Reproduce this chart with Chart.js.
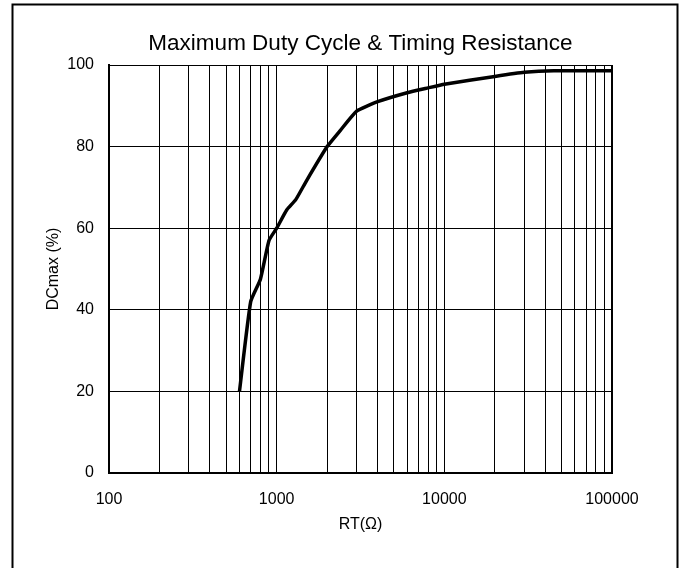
<!DOCTYPE html>
<html>
<head>
<meta charset="utf-8">
<script src="https://cdn.jsdelivr.net/npm/chart.js@4/dist/chart.umd.min.js"></script>
<style>
  html, body { margin: 0; padding: 0; background: #fff; }
  #wrap { width: 684px; height: 568px; position: relative; }
</style>
</head>
<body>
<div id="wrap"><canvas id="c" width="684" height="568"></canvas></div>
<script>
// ---- data ----
const chartTitle = 'Maximum Duty Cycle & Timing Resistance';
const xAxisTitle = 'RT(Ω)';
const yAxisTitle = 'DCmax (%)';
const rtValues = [600, 700, 800, 900, 1000, 1150, 1300, 1500, 2000, 2400, 3000, 4000, 6000, 8000, 10000, 20000, 30000, 45000, 100000];
const dcValues = [20, 42, 47.5, 57, 60, 64.5, 67, 71.5, 80, 84, 88.7, 91, 93.2, 94.4, 95.3, 97.2, 98.2, 98.6, 98.6];
const xGridValues = [100, 200, 300, 400, 500, 600, 700, 800, 900,
                     1000, 2000, 3000, 4000, 5000, 6000, 7000, 8000, 9000,
                     10000, 20000, 30000, 40000, 50000, 60000, 70000, 80000, 90000, 100000];
const xTickLabels = [100, 1000, 10000, 100000];
const yTickValues = [0, 20, 40, 60, 80, 100];

const FONT = "'Liberation Sans', Arial, sans-serif";

const frame = {
  id: 'frame',
  afterDraw(chart) {
    const ctx = chart.ctx;
    const a = chart.chartArea;
    ctx.save();
    ctx.strokeStyle = '#000';
    ctx.lineWidth = 2;
    ctx.strokeRect(12.5, 4.5, 665, 600);
    ctx.beginPath();
    ctx.moveTo(Math.round(a.right), a.top);
    ctx.lineTo(Math.round(a.right), a.bottom);
    ctx.stroke();
    // chart title, centred over the plot area
    ctx.fillStyle = '#000';
    ctx.font = '22.5px ' + FONT;
    ctx.textAlign = 'center';
    ctx.textBaseline = 'middle';
    ctx.fillText(chartTitle, (a.left + a.right) / 2, 44);
    ctx.restore();
  }
};

new Chart(document.getElementById('c'), {
  type: 'line',
  data: {
    datasets: [{
      data: rtValues.map((x, i) => ({ x: x, y: dcValues[i] })),
      borderColor: '#000',
      borderWidth: 3.5,
      pointRadius: 0,
      tension: 0.15,
      fill: false
    }]
  },
  options: {
    responsive: false,
    animation: false,
    layout: { padding: { left: 0, right: 72, top: 65, bottom: 0 } },
    plugins: {
      legend: { display: false },
      tooltip: { enabled: false },
      title: { display: false }
    },
    scales: {
      x: {
        type: 'logarithmic',
        min: 100,
        max: 100000,
        afterBuildTicks: (s) => { s.ticks = xGridValues.map(v => ({ value: v })); },
        afterFit: (s) => { s.height = 95; },
        ticks: {
          autoSkip: false,
          maxRotation: 0,
          minRotation: 0,
          padding: 17,
          color: '#000',
          font: { family: FONT, size: 16 },
          callback: (v) => xTickLabels.includes(v) ? String(v) : ''
        },
        grid: { color: '#000', lineWidth: 1, drawTicks: false },
        border: { display: true, color: '#000', width: 2 },
        title: {
          display: true,
          text: xAxisTitle,
          color: '#000',
          font: { family: FONT, size: 16, lineHeight: 1.2 },
          padding: { top: 0, bottom: 34 }
        }
      },
      y: {
        min: 0,
        max: 100,
        afterBuildTicks: (s) => { s.ticks = yTickValues.map(v => ({ value: v })); },
        afterFit: (s) => { s.width = 109; },
        ticks: {
          padding: 15,
          color: '#000',
          font: { family: FONT, size: 16 }
        },
        grid: { color: '#000', lineWidth: 1, drawTicks: false },
        border: { display: true, color: '#000', width: 2 },
        title: {
          display: true,
          text: yAxisTitle,
          color: '#000',
          font: { family: FONT, size: 16, lineHeight: 1.2 },
          padding: { top: 43.5, bottom: 0 }
        }
      }
    }
  },
  plugins: [frame]
});
</script>
</body>
</html>
